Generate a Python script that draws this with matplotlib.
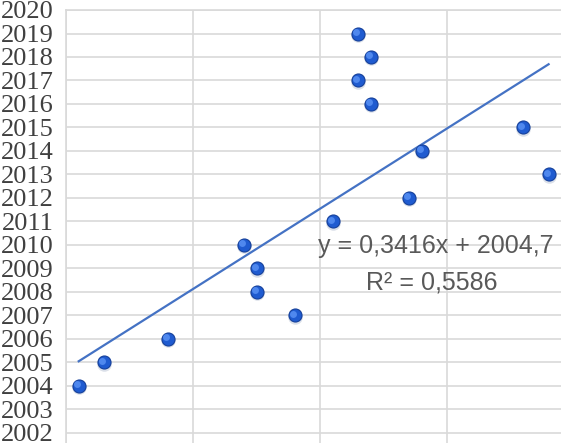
import matplotlib
matplotlib.use('Agg')
import matplotlib.pyplot as plt
import numpy as np

# точки данных (x - номер, y - год)
x_vals = [1, 3, 8, 14, 15, 15, 18, 21, 23, 24, 23, 24, 27, 28, 36, 38]
y_vals = [2004, 2005, 2006, 2010, 2009, 2008, 2007, 2011, 2019, 2018, 2017, 2016, 2012, 2014, 2015, 2013]
y_ticks = list(range(2002, 2021))
x_grid = [0, 10, 20, 30, 40]
eq_text = 'y = 0,3416x + 2004,7'
r2_text = 'R² = 0,5586'

fig = plt.figure(figsize=(5.61, 4.43), dpi=100)
ax = fig.add_axes([66 / 561, -10 / 443, 508 / 561, 443 / 443])
ax.set_xlim(0, 40)
ax.set_ylim(2002 - 20 / 23.5, 2020)

ax.set_yticks(y_ticks)
ax.set_yticklabels([str(t) for t in y_ticks], family='Liberation Serif', fontsize=19, color='#404040')
ax.set_xticks(x_grid)
ax.tick_params(axis='y', length=0, pad=9)
ax.tick_params(axis='x', length=0, labelbottom=False)
ax.grid(True, color='#d9d9d9', linewidth=1.2)
ax.set_axisbelow(True)
for s in ['bottom', 'right']:
    ax.spines[s].set_visible(False)
for s in ['top', 'left']:
    ax.spines[s].set_color('#d9d9d9')
    ax.spines[s].set_linewidth(1.2)

# линия тренда
k, b = np.polyfit(x_vals, y_vals, 1)
xt = np.array([min(x_vals), max(x_vals)])
ax.plot(xt, k * xt + b, color='#4472c4', linewidth=1.6, zorder=2)

# точки (объёмный вид)
ax.scatter(x_vals, np.array(y_vals) - 0.06, s=110, color='#9aa8c0', alpha=0.35, linewidths=0, zorder=3)
ax.scatter(x_vals, y_vals, s=88, color='#1f5bd0', edgecolors='#15409a', linewidths=0.8, zorder=4)
ax.scatter(np.array(x_vals) - 0.15, np.array(y_vals) + 0.08, s=25, color='#4f88ee', linewidths=0, zorder=5)

ax.text(29.1, 2009.97, eq_text, ha='center', va='center', family='Liberation Sans',
        fontsize=18, color='#595959')
ax.text(28.8, 2008.4, r2_text, ha='center', va='center', family='Liberation Sans',
        fontsize=18, color='#595959')

plt.savefig('out.png', dpi=100)
